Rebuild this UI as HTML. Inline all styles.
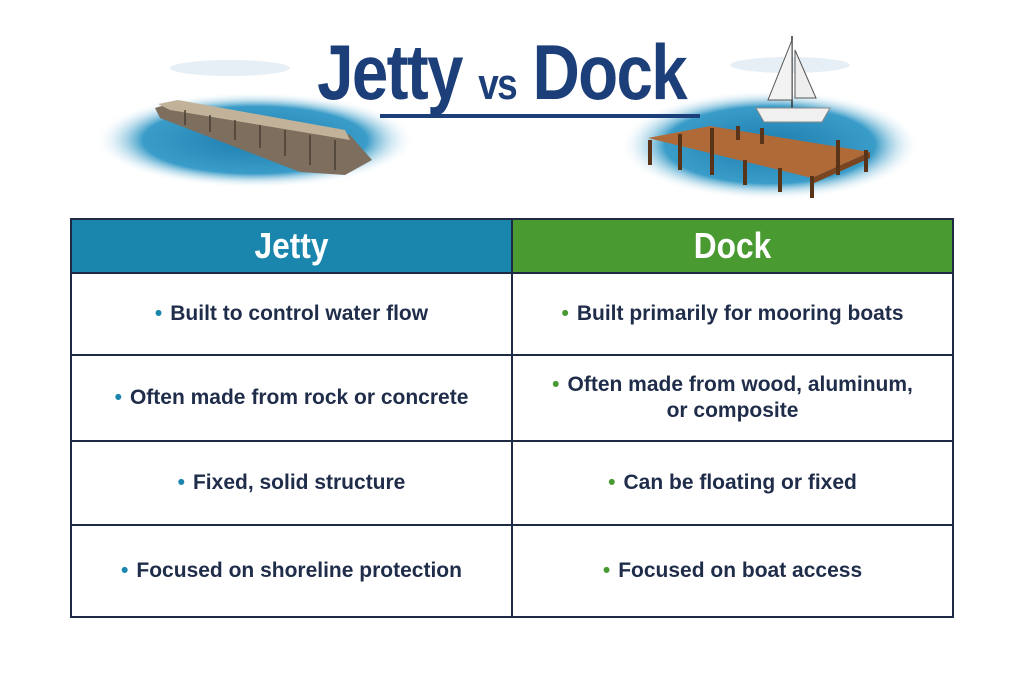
<!DOCTYPE html>
<html><head><meta charset="utf-8"><style>
body{margin:0;width:1024px;height:683px;background:#fff;overflow:hidden;position:relative;font-family:"Liberation Sans",sans-serif;}
.title{position:absolute;left:-8px;width:1024px;top:32px;text-align:center;font-weight:bold;font-size:78px;color:#1c3f7a;letter-spacing:-2px;line-height:80px;transform:scaleX(0.84);transform-origin:497px 0}
.title span{font-size:44px}
table{position:absolute;left:70px;top:218px;width:884px;border-collapse:collapse;}
td,th{border:2px solid #1e2a44;text-align:center;width:50%;padding:0}
th{height:52px;color:#fff;font-size:36px;font-weight:bold}
th div{transform:scaleX(0.88)}
td{color:#1f2d4a;font-size:21px;font-weight:bold;line-height:26px}
.b{color:#1a85ad;margin-right:8px}
.g{color:#4a9a32;margin-right:8px}
</style></head><body>
<svg width="1024" height="215" style="position:absolute;left:0;top:0">
<defs><radialGradient id="w" cx="50%" cy="50%" r="50%"><stop offset="0" stop-color="#1e7eb0"/><stop offset="0.7" stop-color="#3a9cc8"/><stop offset="1" stop-color="#fff" stop-opacity="0"/></radialGradient></defs>
<ellipse cx="230" cy="68" rx="60" ry="8" fill="#e6eff5"/>
<ellipse cx="790" cy="65" rx="60" ry="8" fill="#e6eff5"/>
<ellipse cx="255" cy="140" rx="160" ry="48" fill="url(#w)"/>
<ellipse cx="770" cy="145" rx="150" ry="55" fill="url(#w)"/>
<rect x="380" y="114" width="320" height="4" fill="#1c3f7a"/>
<polygon points="155,108 175,102 350,135 372,160 345,175 300,172 160,118" fill="#7d6e5e"/>
<polygon points="158,104 178,100 345,130 350,140 170,110" fill="#c2b29a"/>
<g stroke="#4a3e33" stroke-width="1.5">
<line x1="185" y1="110" x2="185" y2="125"/><line x1="210" y1="115" x2="210" y2="132"/><line x1="235" y1="120" x2="235" y2="140"/><line x1="260" y1="125" x2="260" y2="148"/><line x1="285" y1="130" x2="285" y2="156"/><line x1="310" y1="135" x2="310" y2="165"/><line x1="335" y1="140" x2="335" y2="170"/>
</g>
<line x1="792" y1="36" x2="792" y2="112" stroke="#333" stroke-width="1.5"/>
<polygon points="792,40 792,100 768,100" fill="#f3f3f3" stroke="#555"/>
<polygon points="795,50 795,98 816,98" fill="#eee" stroke="#555"/>
<path d="M756 108 L830 108 L822 122 L764 122 Z" fill="#f0f0f0" stroke="#888"/>
<polygon points="648,138 710,126 870,152 812,178" fill="#b06a38"/>
<polygon points="812,178 870,152 870,158 812,184" fill="#7a4520"/>
<g stroke="#5a3418" stroke-width="4">
<line x1="650" y1="140" x2="650" y2="165"/><line x1="680" y1="134" x2="680" y2="170"/><line x1="712" y1="128" x2="712" y2="175"/><line x1="745" y1="160" x2="745" y2="185"/><line x1="780" y1="168" x2="780" y2="192"/><line x1="812" y1="176" x2="812" y2="198"/><line x1="838" y1="140" x2="838" y2="175"/><line x1="866" y1="150" x2="866" y2="172"/><line x1="738" y1="126" x2="738" y2="140"/><line x1="762" y1="128" x2="762" y2="144"/>
</g>
</svg>
<div class="title">Jetty <span>vs</span> Dock</div>
<table>
<tr><th style="background:#1a85ad"><div>Jetty</div></th><th style="background:#4a9a32"><div>Dock</div></th></tr>
<tr style="height:82px"><td><span class="b">•</span>Built to control water flow</td><td><span class="g">•</span>Built primarily for mooring boats</td></tr>
<tr style="height:86px"><td><span class="b">•</span>Often made from rock or concrete</td><td><span class="g">•</span>Often made from wood, aluminum,<br>or composite</td></tr>
<tr style="height:84px"><td><span class="b">•</span>Fixed, solid structure</td><td><span class="g">•</span>Can be floating or fixed</td></tr>
<tr style="height:92px"><td><span class="b">•</span>Focused on shoreline protection</td><td><span class="g">•</span>Focused on boat access</td></tr>
</table>
</body></html>
